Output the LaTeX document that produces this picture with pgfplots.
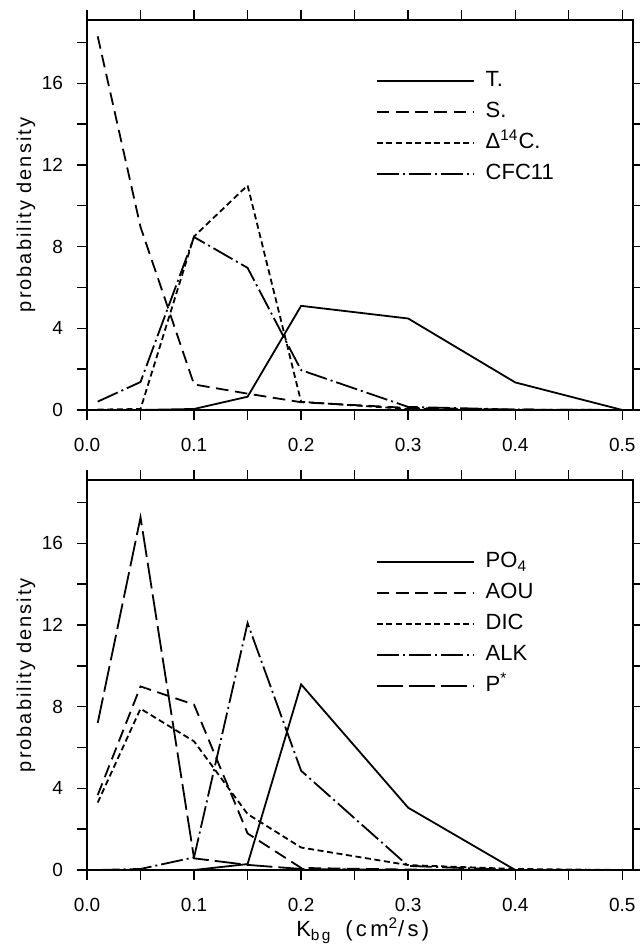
\documentclass[border=0pt]{standalone}
\usepackage{pgfplots}
\pgfplotsset{compat=1.18}
\usepackage{fontspec}
\setmainfont{Liberation Sans}
\newfontfamily\lblfont[LetterSpace=10]{Liberation Sans}
\newfontfamily\xlblfont[LetterSpace=15]{Liberation Sans}

\pgfplotstableread{
x     T     S     D14C  CFC
0.01  0     18.3  0.02  0.41
0.05  0     8.96  0.05  1.37
0.10  0.05  1.25  8.5   8.47
0.15  0.65  0.8   11.0  6.96
0.20  5.1   0.38  0.4   1.95
0.30  4.48  0.1   0.05  0.15
0.40  1.35  0.02  0     0.02
0.50  0     0     0     0
}\toptable

\pgfplotstableread{
x     PO4   AOU   DIC   ALK    Pstar
0.01  0     3.67  3.3   0      7.2
0.05  0     8.99  7.9   0.05   17.27
0.10  0     8.1   6.3   0.62   0.57
0.15  0.29  1.79  2.74  12.09  0.25
0.20  9.09  0.1   1.1   4.86   0.05
0.30  3.05  0.02  0.24  0.2    0
0.40  0     0     0.05  0      0
0.50  0     0     0     0      0
}\bottable

\pgfplotsset{
 panel/.style={
  scale only axis, width=273pt, height=195pt,
  xmin=0, xmax=0.51, ymin=0, ymax=19.1,
  xtick={0,0.1,0.2,0.3,0.4,0.5}, xticklabels={0.0,0.1,0.2,0.3,0.4,0.5},
  minor xtick={0.05,0.15,0.25,0.35,0.45},
  ytick={0,4,8,12,16}, minor ytick={2,6,10,14,18},
  tick align=outside, major tick length=5pt, minor tick length=5pt,
  every tick/.style={black, line width=0.7pt},
  axis line style={line width=0.8pt},
  ticklabel style={font=\fontsize{9.5}{10}\selectfont},
  xticklabel style={yshift=-8.5pt, inner sep=0.5pt},
  yticklabel style={xshift=-3.5pt},
  /pgf/number format/assume math mode=true,
  ylabel={probability density},
  ylabel style={font=\lblfont\fontsize{10}{12}\selectfont, at={(axis description cs:-0.112,0.5)}, anchor=center},
  legend cell align=left,
  legend style={draw=none, fill=none, anchor=north west, font=\fontsize{11}{13}\selectfont,
    row sep=5pt, column sep=5.5pt, inner sep=0pt,
    nodes={inner sep=0pt, text height=8pt, text depth=2.5pt}},
  legend image code/.code={\draw[##1] (0pt,0pt) -- (48.5pt,0pt);},
 },
 sT/.style={black, line width=0.9pt, solid},
 sS/.style={black, line width=0.9pt, dash pattern=on 6.3pt off 3.3pt},
 sD/.style={black, line width=0.9pt, dash pattern=on 3pt off 1.8pt},
 sC/.style={black, line width=0.9pt, dash pattern=on 11pt off 2pt on 1pt off 2pt},
 sP/.style={black, line width=0.9pt, dash pattern=on 13pt off 3pt},
}

\begin{document}
\begin{tikzpicture}
\path[use as bounding box] (0pt,0pt) rectangle (320pt,472.5pt);
\begin{axis}[panel, at={(43.5pt,267.5pt)}, anchor=south west,
  legend style={at={(axis cs:0.2695,16.65)}}]
\addplot[sT] table[x=x,y=T] {\toptable};
\addlegendentry{T.}
\addplot[sS] table[x=x,y=S] {\toptable};
\addlegendentry{S.}
\addplot[sD] table[x=x,y=D14C] {\toptable};
\addlegendentry{Δ\textsuperscript{14}C.}
\addplot[sC] table[x=x,y=CFC] {\toptable};
\addlegendentry{CFC11}
\end{axis}
\begin{axis}[panel, at={(43.5pt,37.5pt)}, anchor=south west,
  legend style={at={(axis cs:0.2695,15.6)}},
  xlabel={K\textsubscript{bg}\hspace{7pt}(cm\textsuperscript{2}/s)},
  xlabel style={font=\xlblfont\fontsize{11}{12}\selectfont, inner sep=0pt, at={(axis description cs:0.505,-0.156)}, anchor=center}]
\addplot[sT] table[x=x,y=PO4] {\bottable};
\addlegendentry{PO\textsubscript{4}}
\addplot[sS] table[x=x,y=AOU] {\bottable};
\addlegendentry{AOU}
\addplot[sD] table[x=x,y=DIC] {\bottable};
\addlegendentry{DIC}
\addplot[sC] table[x=x,y=ALK] {\bottable};
\addlegendentry{ALK}
\addplot[sP] table[x=x,y=Pstar] {\bottable};
\addlegendentry{P\textsuperscript{*}}
\end{axis}
\end{tikzpicture}
\end{document}
